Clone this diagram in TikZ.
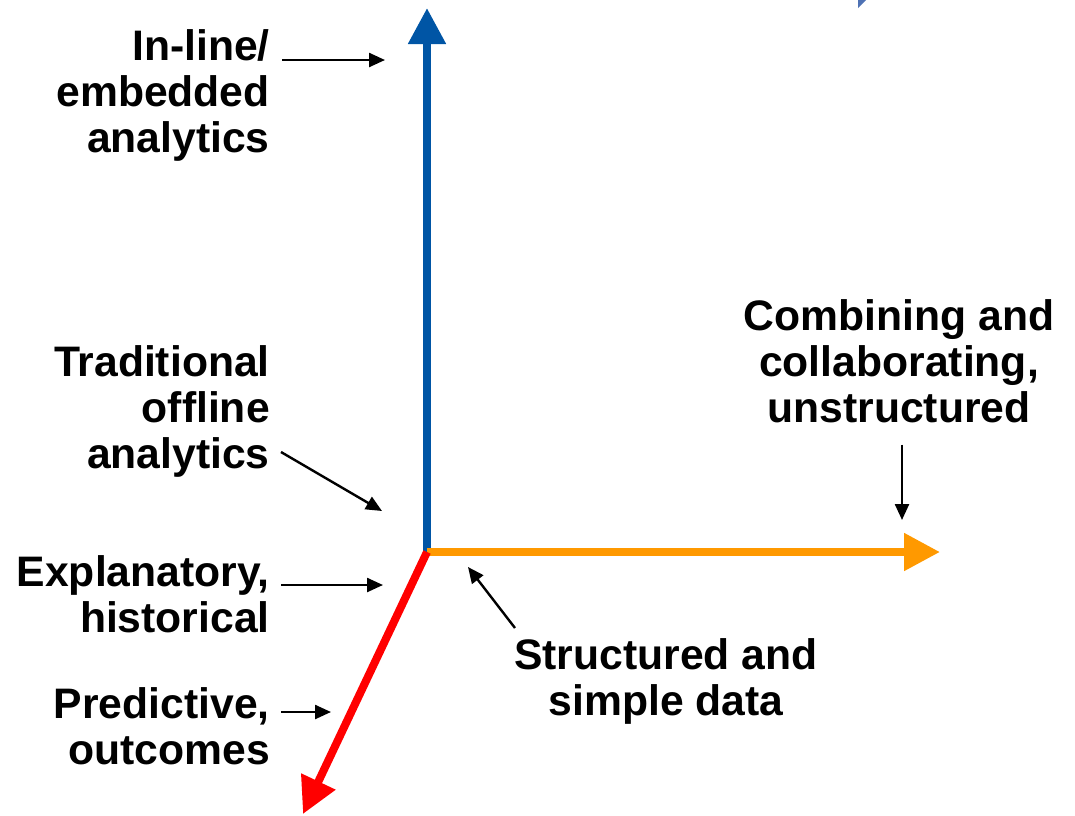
\documentclass[tikz,border=0pt]{standalone}
\usepackage{fontspec}
\setmainfont{Liberation Sans}
\usetikzlibrary{arrows.meta, positioning}
\definecolor{axisBlue}{RGB}{0,85,165}
\definecolor{axisOrange}{RGB}{255,153,0}
\definecolor{axisRed}{RGB}{255,0,0}
\definecolor{cornerBlue}{RGB}{79,114,180}
\tikzset{
    tag/.style={font=\fontsize{32}{34.5}\selectfont\bfseries, inner sep=0pt},
    leftTag/.style={tag, align=right, anchor=base east},
    axisLine/.style={line width=6pt, -{Triangle[length=27pt, width=27pt]}},
    pointer/.style={line width=1.8pt, -{Triangle[length=12pt, width=10.5pt]}}
}

\begin{document}
\begin{tikzpicture}[x=0.75pt, y=-0.75pt]
    \useasboundingbox (0,0) rectangle (1075,815);
    % Axes
    \coordinate (origin) at (427,552);
    \coordinate (upTip) at (427,8);
    \coordinate (rightTip) at (940,552);
    \coordinate (downTip) at (303,814);
    \draw [axisLine, axisBlue] (origin) -- (upTip);
    \draw [axisLine, axisOrange] (origin) -- (rightTip);
    \draw [axisLine, axisRed] (origin) -- (downTip);
    \fill [cornerBlue] (858,0) -- (866,0) -- (858,8) -- cycle;
    % Nodes (anchored at the baseline of the last line)
    \node (inline) [leftTag] at (270,152) {In-line/\\embedded\\analytics};
    \node (offline) [leftTag] at (270,468) {Traditional\\offline\\analytics};
    \node (explain) [leftTag] at (270,632) {Explanatory,\\historical};
    \node (predict) [leftTag] at (270,764) {Predictive,\\outcomes};
    \node (combine) [tag, align=center, anchor=base] at (899,422) {Combining and\\collaborating,\\unstructured};
    \node (structured) [tag, align=center, anchor=base] at (666,715) {Structured and\\simple data};
    % Arrow ends
    \coordinate (inlineTip) at (385,60);
    \coordinate (offlineTip) at (382,511);
    \coordinate (explainTip) at (383,585);
    \coordinate (predictTip) at (331,712);
    \coordinate (combineTip) at (902,520);
    \coordinate (structuredTip) at (468,567);
    % Arrows
    \draw [pointer] (inline.east |- inlineTip) ++(12,0) -- (inlineTip);
    \draw [pointer] (281,452) -- (offlineTip);
    \draw [pointer] (explain.east |- explainTip) ++(11,0) -- (explainTip);
    \draw [pointer] (predict.east |- predictTip) ++(11,0) -- (predictTip);
    \draw [pointer] (combineTip |- combine.south) ++(0,22) -- (combineTip);
    \draw [pointer] (515,628) -- (structuredTip);
\end{tikzpicture}
\end{document}
